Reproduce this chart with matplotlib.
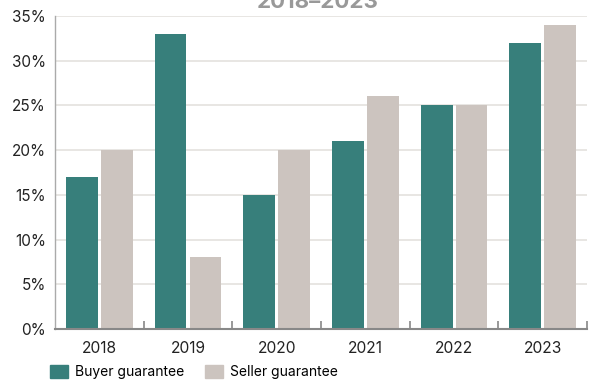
import matplotlib
matplotlib.use("Agg")
import matplotlib.pyplot as plt
import numpy as np
from matplotlib.patches import Patch

years = ["2018", "2019", "2020", "2021", "2022", "2023"]
buyer = [17, 33, 15, 21, 25, 32]
seller = [20, 8, 20, 26, 25, 34]
yticks = [0, 5, 10, 15, 20, 25, 30, 35]

teal = "#377f7b"
beige = "#ccc4bf"

plt.rcParams["font.family"] = ["Inter", "DejaVu Sans"]

fig = plt.figure(figsize=(5.92, 3.85), dpi=100)
ax = fig.add_axes([0.0929, 0.1455, 0.8987, 0.8129])

x = np.arange(len(years))
w = 0.36
ax.bar(x - 0.197, buyer, w, color=teal, zorder=3)
ax.bar(x + 0.197, seller, w, color=beige, zorder=3)

ax.set_xlim(-0.5, len(years) - 0.5)
ax.set_ylim(0, 35)
ax.set_yticks(yticks)
ax.set_yticklabels([f"{v}%" for v in yticks], fontsize=11, color="#222222")
ax.set_xticks(x)
ax.set_xticklabels(years, fontsize=11.2, color="#222222")
ax.set_xticks(np.arange(0.5, len(years)), minor=True)
ax.tick_params(axis="x", which="major", length=0, pad=9)
ax.tick_params(axis="x", which="minor", direction="in", length=6, width=1.2, color="#888888")
ax.tick_params(axis="y", length=0, pad=6.5)

ax.grid(axis="y", color="#e4e2de", linewidth=1.2, zorder=0)
for side in ["top", "right"]:
    ax.spines[side].set_visible(False)
ax.spines["left"].set_color("#aaaaaa")
ax.spines["left"].set_linewidth(1.0)
ax.spines["bottom"].set_color("#888888")
ax.spines["bottom"].set_linewidth(1.5)
ax.spines["bottom"].set_zorder(4)

fig.text(0.537, 0.979, "2018\u20132023", ha="center", va="baseline",
         fontsize=16, fontweight="bold", color="#999999")

handles = [Patch(color=teal, label="Buyer guarantee"),
           Patch(color=beige, label="Seller guarantee")]
fig.legend(handles=handles, loc="center left", bbox_to_anchor=(0.084, 0.034),
           ncol=2, frameon=False, fontsize=10, handlelength=1.3, handleheight=1.15,
           handletextpad=0.5, columnspacing=1.5, borderpad=0, borderaxespad=0)

fig.savefig("out.png", dpi=100)
